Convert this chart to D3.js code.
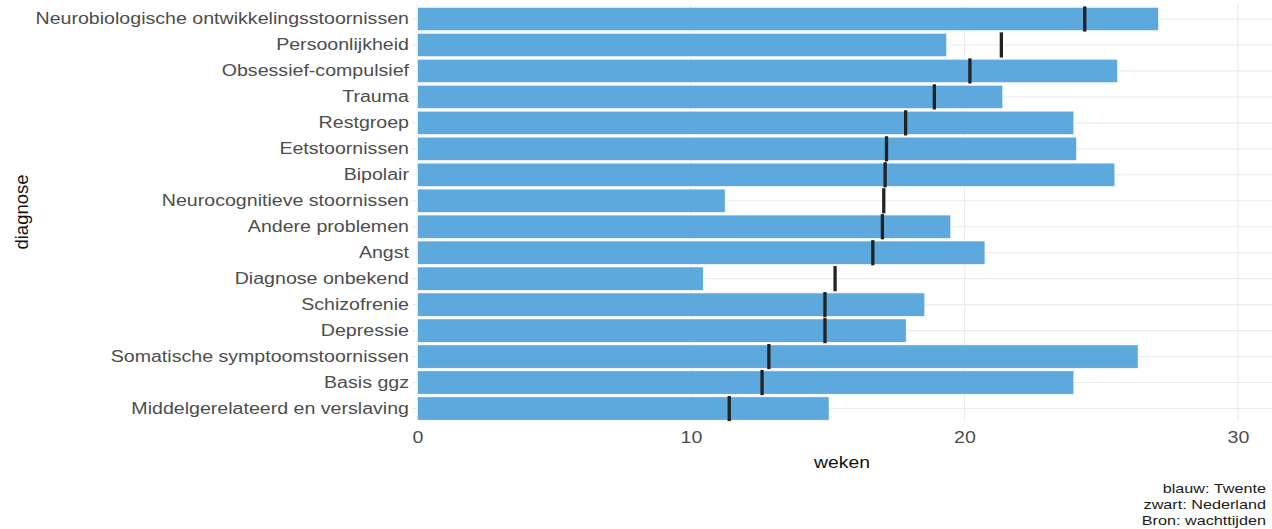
<!DOCTYPE html>
<html>
<head>
<meta charset="utf-8">
<script src="https://cdn.jsdelivr.net/npm/d3@7"></script>
<style>
  body { margin: 0; background: #fff; }
  text { font-family: "Liberation Sans", Arial, sans-serif; }
</style>
</head>
<body>
<div id="chart"></div>
<script>
// Wachttijden per diagnose: Twente (balk) vs Nederland (zwarte streep)

const diagnoses = [
    "Neurobiologische ontwikkelingsstoornissen",
    "Persoonlijkheid",
    "Obsessief-compulsief",
    "Trauma",
    "Restgroep",
    "Eetstoornissen",
    "Bipolair",
    "Neurocognitieve stoornissen",
    "Andere problemen",
    "Angst",
    "Diagnose onbekend",
    "Schizofrenie",
    "Depressie",
    "Somatische symptoomstoornissen",
    "Basis ggz",
    "Middelgerelateerd en verslaving"
];

// blauw: Twente
const twente = [27.1, 19.35, 25.6, 21.4, 24.0, 24.1, 25.5, 11.25, 19.5, 20.75, 10.45, 18.55, 17.87, 26.35, 24.0, 15.05];

// zwart: Nederland
const nederland = [24.4, 21.35, 20.2, 18.9, 17.85, 17.15, 17.1, 17.05, 17.0, 16.65, 15.27, 14.9, 14.9, 12.85, 12.6, 11.4];

const xTicks = [0, 10, 20, 30];
const captionLines = ["blauw: Twente", "zwart: Nederland", "Bron: wachttijden"];

const data = diagnoses.map((d, i) => ({ diagnose: d, twente: twente[i], nl: nederland[i] }));

const width = 1272;
const height = 529;
const stretch = 1.21;   // labels look a bit wide in the picture

const svg = d3.select("#chart")
    .append("svg")
    .attr("width", width)
    .attr("height", height);

const panelLeft = 412, panelRight = 1268, panelTop = 6, panelBottom = 421.5;

const x = d3.scaleLinear()
    .domain([-0.2, 31.1])
    .range([panelLeft, panelRight]);

const y = d3.scaleBand()
    .domain(diagnoses)
    .range([panelTop, panelBottom])
    .paddingInner(0.1)
    .paddingOuter(0.05);

// grid
svg.append("g")
    .selectAll("line")
    .data(diagnoses)
    .enter()
    .append("line")
    .attr("x1", panelLeft)
    .attr("x2", width)
    .attr("y1", d => y(d) + y.bandwidth() / 2)
    .attr("y2", d => y(d) + y.bandwidth() / 2)
    .attr("stroke", "#ebebeb")
    .attr("stroke-width", 1.1);

svg.append("g")
    .selectAll("line")
    .data(xTicks)
    .enter()
    .append("line")
    .attr("x1", d => x(d))
    .attr("x2", d => x(d))
    .attr("y1", panelTop - 2)
    .attr("y2", panelBottom)
    .attr("stroke", "#ebebeb")
    .attr("stroke-width", 1.1);

// bars (Twente)
svg.append("g")
    .selectAll("rect")
    .data(data)
    .enter()
    .append("rect")
    .attr("x", x(0))
    .attr("y", d => y(d.diagnose))
    .attr("width", d => x(d.twente) - x(0))
    .attr("height", y.bandwidth())
    .attr("fill", "#5da9de")
    .attr("stroke", "#ffffff")
    .attr("stroke-width", 0.6);

// marks (Nederland)
const markH = y.step() * 0.97;
svg.append("g")
    .selectAll("line")
    .data(data)
    .enter()
    .append("line")
    .attr("x1", d => x(d.nl))
    .attr("x2", d => x(d.nl))
    .attr("y1", d => y(d.diagnose) + y.bandwidth() / 2 - markH / 2)
    .attr("y2", d => y(d.diagnose) + y.bandwidth() / 2 + markH / 2)
    .attr("stroke", "#222222")
    .attr("stroke-width", 3.3);

// axes
const yAxis = svg.append("g")
    .attr("transform", `translate(${panelLeft},0)`)
    .call(d3.axisLeft(y).tickSize(0).tickPadding(2.5));
yAxis.select(".domain").remove();
yAxis.selectAll("text")
    .attr("font-size", 16.2)
    .attr("fill", "#4d4d4d")
    .attr("font-family", "Liberation Sans, Arial, sans-serif")
    .attr("transform", `scale(${stretch},1)`);

const xAxis = svg.append("g")
    .attr("transform", `translate(0,${panelBottom})`)
    .call(d3.axisBottom(x).tickValues(xTicks).tickSize(0).tickPadding(10));
xAxis.select(".domain").remove();
xAxis.selectAll("text")
    .attr("font-size", 16.2)
    .attr("fill", "#4d4d4d")
    .attr("font-family", "Liberation Sans, Arial, sans-serif")
    .attr("transform", `scale(${stretch},1)`);

// axis titles
svg.append("text")
    .attr("transform", `translate(842,468) scale(${stretch},1)`)
    .attr("text-anchor", "middle")
    .attr("font-size", 16)
    .attr("fill", "#111")
    .text("weken");

svg.append("text")
    .attr("transform", "translate(28,212) rotate(-90)")
    .attr("text-anchor", "middle")
    .attr("font-size", 18.5)
    .attr("fill", "#111")
    .text("diagnose");

// caption
svg.append("g")
    .selectAll("text")
    .data(captionLines)
    .enter()
    .append("text")
    .attr("transform", (d, i) => `translate(1266,${493 + i * 16}) scale(${stretch},1)`)
    .attr("text-anchor", "end")
    .attr("font-size", 13.4)
    .attr("fill", "#1a1a1a")
    .text(d => d);
</script>
</body>
</html>
